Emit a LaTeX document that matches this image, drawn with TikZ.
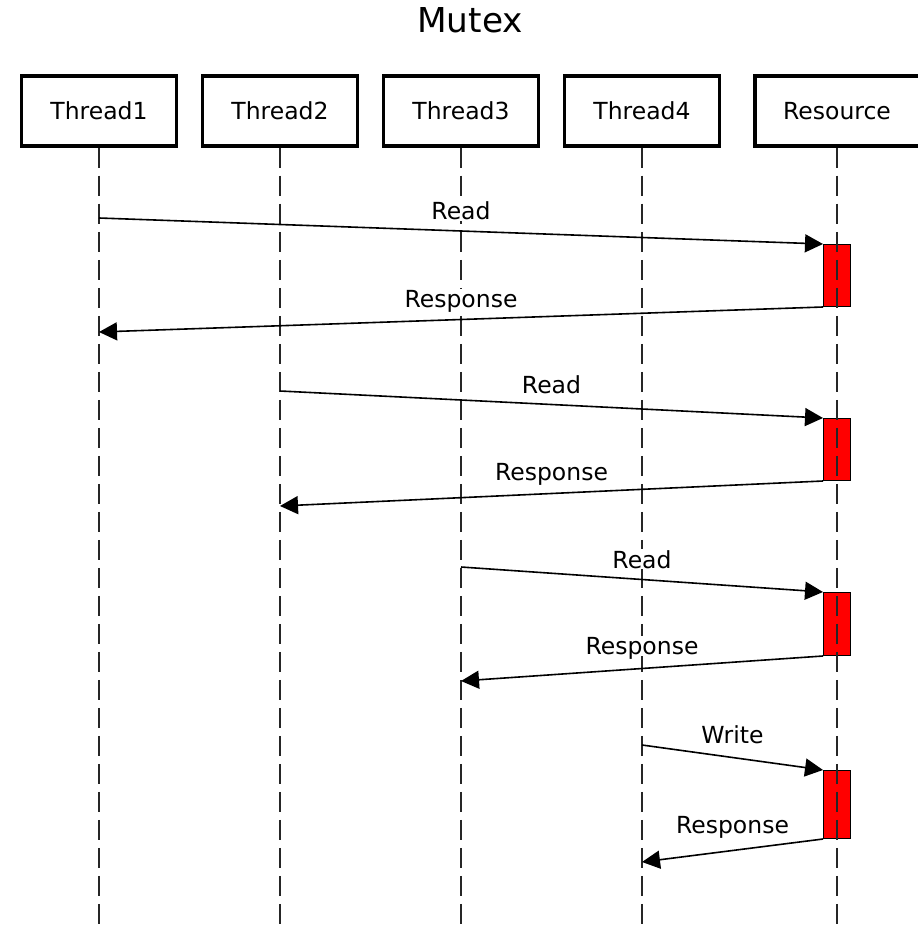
\documentclass[tikz,border=0pt]{standalone}
\usepackage{fontspec}
\setmainfont{DejaVu Sans}
\usetikzlibrary{positioning,arrows.meta}
\definecolor{lock}{RGB}{255,0,0}

\begin{document}
\begin{tikzpicture}[x=1pt,y=-1pt,>={Triangle[length=18pt,width=18pt]},
  font=\fontsize{23.5}{28}\selectfont,
  actor/.style={draw,line width=3.5pt,minimum width=155pt,minimum height=70pt,inner sep=0pt},
  life/.style={line width=2pt,dash pattern=on 20pt off 8pt,black!85},
  lockbox/.style={draw,line width=1pt,fill=lock,minimum width=27pt,inner sep=0pt,anchor=north west},
  msg/.style={->,line width=1.6pt},
  lbl/.style={midway,fill=white,inner sep=1pt,text depth=0pt,anchor=base}]
  \useasboundingbox (0,0) rectangle (917,925);
  \node[font=\fontsize{34.3}{41}\selectfont,anchor=base] (title) at (470,33) {Mutex};
  % participants
  \node[actor] (t1) at (99,111) {Thread1};
  \node[actor] (t2) at (280,111) {Thread2};
  \node[actor] (t3) at (461,111) {Thread3};
  \node[actor] (t4) at (642,111) {Thread4};
  \node[actor,minimum width=170pt] (res) at (840,111) {\hspace*{-6pt}Resource};
  \coordinate (bot) at (0,925);
  \foreach \p in {t1,t2,t3,t4} \draw[life] (\p.south) -- (\p.south |- bot);
  % resource held
  \node[lockbox,minimum height=62pt] (h1) at (823,244) {};
  \node[lockbox,minimum height=62pt] (h2) at (823,418) {};
  \node[lockbox,minimum height=63pt] (h3) at (823,592) {};
  \node[lockbox,minimum height=68pt] (h4) at (823,770) {};
  \draw[life] (h1.north |- res.south) -- (h1.north |- bot);
  % ends on the thread lifelines
  \coordinate (rq1) at (99,218);  \coordinate (rp1) at (99,332);
  \coordinate (rq2) at (280,391); \coordinate (rp2) at (280,506);
  \coordinate (rq3) at (461,567); \coordinate (rp3) at (461,681);
  \coordinate (rq4) at (642,745); \coordinate (rp4) at (642,862);
  \draw[msg] (rq1) -- node[lbl,yshift=11pt]{Read} (h1.north west);
  \draw[msg] (h1.south west) -- node[lbl,yshift=12pt]{Response} (rp1);
  \draw[msg] (rq2) -- node[lbl,yshift=11.5pt]{Read} (h2.north west);
  \draw[msg] (h2.south west) -- node[lbl,yshift=13pt]{Response} (rp2);
  \draw[msg] (rq3) -- node[lbl,yshift=11.5pt]{Read} (h3.north west);
  \draw[msg] (h3.south west) -- node[lbl,yshift=14pt]{Response} (rp3);
  \draw[msg] (rq4) -- node[lbl,yshift=14.5pt]{Write} (h4.north west);
  \draw[msg] (h4.south west) -- node[lbl,yshift=17pt]{Response} (rp4);
\end{tikzpicture}
\end{document}
